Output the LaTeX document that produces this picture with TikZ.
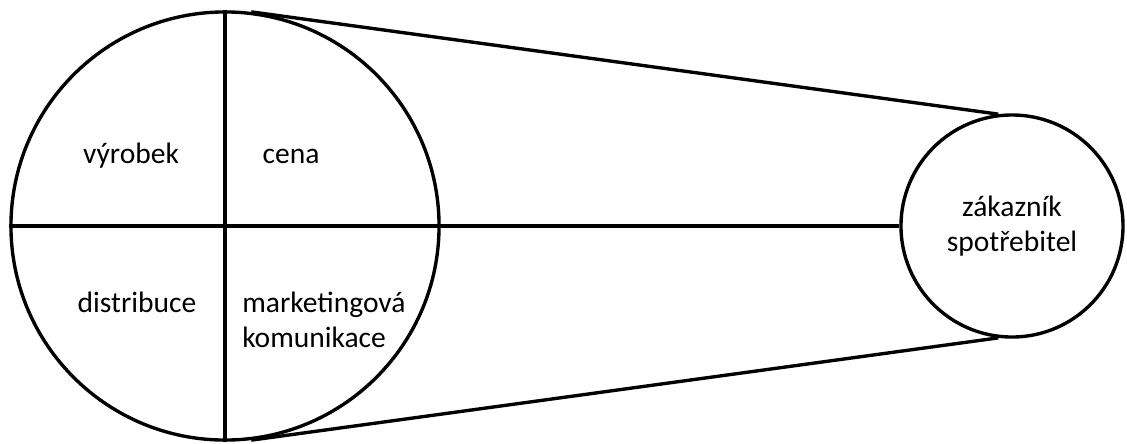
\documentclass[tikz,border=0pt]{standalone}
\usepackage{fontspec}
\setmainfont{Carlito}
\usetikzlibrary{positioning, calc}

\begin{document}
\begin{tikzpicture}[
  x=0.025cm, y=-0.025cm,
  ring/.style={draw, circle, line width=2.4pt, inner sep=0pt, align=center},
  lbl/.style={anchor=base, align=left, inner sep=0pt},
  edge/.style={line width=2.4pt}
]
  \useasboundingbox (0,0) rectangle (1127,443);
  \tikzset{every node/.style={font=\fontsize{21}{24.5}\selectfont}}

  \node[ring, minimum size=10.7cm] (mix) at (225,226) {};
  \node[ring, minimum size=5.55cm] (customer) at (1012,226)
    {zákazník\\spotřebitel};

  \node[lbl] (product) at (131,163) {výrobek};
  \node[lbl] (price)   at (291,163) {cena};
  \node[lbl] (place)   at (137,312) {distribuce};
  \node[lbl, anchor=base west] (promo) at (242,347)
    {marketingová\\komunikace};

  \draw[edge] (mix.north) -- (mix.south);
  \draw[edge] (mix.west) -- (customer.west);
  \draw[edge] (mix.83) -- (customer.97);
  \draw[edge] (mix.-83) -- (customer.-97);
\end{tikzpicture}
\end{document}
